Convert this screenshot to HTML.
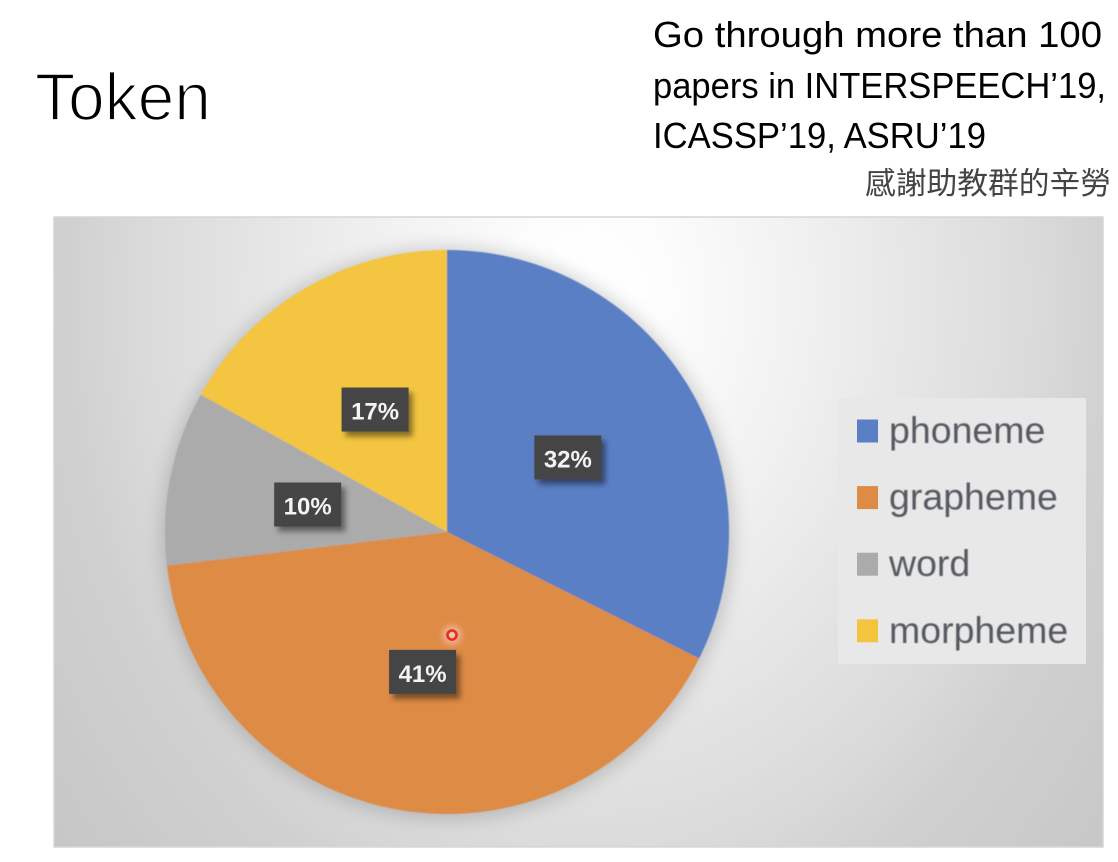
<!DOCTYPE html>
<html lang="en">
<head>
<meta charset="utf-8">
<title>Token</title>
<style>
html,body{margin:0;padding:0;background:#fff;width:1118px;height:862px;overflow:hidden}
svg{display:block}
text{font-family:"Liberation Sans","Noto Sans CJK TC",sans-serif}
</style>
</head>
<body>
<svg id="chart" xmlns="http://www.w3.org/2000/svg" width="1118" height="862" viewBox="0 0 1118 862">
  <defs>
    <radialGradient id="panelGrad" gradientUnits="userSpaceOnUse" cx="590" cy="300" r="700" gradientTransform="translate(0,300) scale(1,1.25) translate(0,-300)">
      <stop offset="0" stop-color="#ffffff"/>
      <stop offset="0.1" stop-color="#fdfdfd"/>
      <stop offset="0.3" stop-color="#f1f1f1"/>
      <stop offset="0.46" stop-color="#e6e6e6"/>
      <stop offset="0.64" stop-color="#dadada"/>
      <stop offset="0.75" stop-color="#d0d0d0"/>
      <stop offset="1" stop-color="#c6c6c6"/>
    </radialGradient>
    <filter id="labelShadow" x="-30%" y="-30%" width="170%" height="170%">
      <feDropShadow dx="4" dy="5" stdDeviation="3" flood-color="#000" flood-opacity="0.45"/>
    </filter>
    <filter id="soft" x="-10%" y="-10%" width="120%" height="120%">
      <feGaussianBlur stdDeviation="0.45"/>
    </filter>
    <filter id="pieHalo" x="-20%" y="-20%" width="140%" height="140%">
      <feGaussianBlur stdDeviation="9"/>
    </filter>
    <filter id="cursorGlow" x="-100%" y="-100%" width="300%" height="300%">
      <feGaussianBlur stdDeviation="3"/>
    </filter>
  </defs>

  <text x="35" y="120" font-size="67" fill="#000" stroke="#fff" stroke-width="1.8" textLength="176" lengthAdjust="spacingAndGlyphs">Token</text>
  <text x="653" y="47" font-size="36" fill="#000" textLength="449" lengthAdjust="spacingAndGlyphs">Go through more than 100</text>
  <text x="653" y="98" font-size="36" fill="#000" textLength="453" lengthAdjust="spacingAndGlyphs">papers in INTERSPEECH’19,</text>
  <text x="653" y="148" font-size="36" fill="#000" textLength="333" lengthAdjust="spacingAndGlyphs">ICASSP’19, ASRU’19</text>
  <text x="865" y="194" font-size="30.5" fill="#444" textLength="246" lengthAdjust="spacingAndGlyphs">感謝助教群的辛勞</text>

  <rect x="54" y="217" width="1049" height="630" fill="url(#panelGrad)" stroke="#d6d6d6" stroke-width="1.5"/>
  <circle cx="447" cy="534" r="286" fill="#777" opacity="0.35" filter="url(#pieHalo)"/>
  <g id="slices" filter="url(#soft)"></g>
  <g id="labels"></g>
  <rect x="838" y="398" width="248" height="266" fill="#e8e8e8"/>
  <g id="legend"></g>

  <g>
    <circle cx="452" cy="635" r="10" fill="#f6b5a0" opacity="0.8" filter="url(#cursorGlow)"/>
    <circle cx="452" cy="635" r="4.5" fill="#f3c4b4" stroke="#e0301e" stroke-width="2.6"/>
  </g>
</svg>
<script>
const categories = ["phoneme", "grapheme", "word", "morpheme"];
const seriesValues = [32.4, 40.7, 10, 16.9];
const sliceColors = ["#5a7fc5", "#dd8b45", "#ababab", "#f3c53f"];

const NS = "http://www.w3.org/2000/svg";
const CX = 447, CY = 532, R = 282, LABEL_R = 142;
const total = seriesValues.reduce(function (a, b) { return a + b; }, 0);

function angleOf(v) { return v / total * Math.PI * 2; }
function px(a, r) { return CX + r * Math.sin(a); }
function py(a, r) { return CY - r * Math.cos(a); }

const slicesG = document.getElementById("slices");
const labelsG = document.getElementById("labels");
const legendG = document.getElementById("legend");

let cumulative = 0;
seriesValues.forEach(function (v, i) {
  const a0 = angleOf(cumulative);
  const a1 = angleOf(cumulative + v);
  cumulative += v;

  const path = document.createElementNS(NS, "path");
  const large = a1 - a0 > Math.PI ? 1 : 0;
  path.setAttribute("d", "M" + CX + " " + CY + " L" + px(a0, R) + " " + py(a0, R) +
    " A" + R + " " + R + " 0 " + large + " 1 " + px(a1, R) + " " + py(a1, R) + " Z");
  path.setAttribute("fill", sliceColors[i]);
  
  
  slicesG.appendChild(path);

  const mid = (a0 + a1) / 2;
  const lx = px(mid, LABEL_R), ly = py(mid, LABEL_R);
  const g = document.createElementNS(NS, "g");
  
  
  const box = document.createElementNS(NS, "rect");
  box.setAttribute("x", lx - 33.5);
  box.setAttribute("y", ly - 22);
  box.setAttribute("width", 67);
  box.setAttribute("height", 44);
  box.setAttribute("fill", "#444444");
  box.setAttribute("filter", "url(#labelShadow)");
  g.appendChild(box);
  const t = document.createElementNS(NS, "text");
  t.setAttribute("x", lx);
  t.setAttribute("y", ly + 10);
  t.setAttribute("text-anchor", "middle");
  t.setAttribute("font-size", "24");
  t.setAttribute("font-weight", "bold");
  t.setAttribute("fill", "#f4f4f4");
  t.textContent = Math.round(v / total * 100) + "%";
  g.appendChild(t);
  labelsG.appendChild(g);

  const rowY = 431 + i * 66.6;
  const swatch = document.createElementNS(NS, "rect");
  swatch.setAttribute("x", 857);
  swatch.setAttribute("y", rowY - 11.5);
  swatch.setAttribute("width", 21);
  swatch.setAttribute("height", 23);
  swatch.setAttribute("fill", sliceColors[i]);
  
  
  legendG.appendChild(swatch);
  const lt = document.createElementNS(NS, "text");
  lt.setAttribute("x", 889);
  lt.setAttribute("y", rowY + 12);
  lt.setAttribute("font-size", "37.5");
  lt.setAttribute("fill", "#565a60");
  lt.setAttribute("filter", "url(#soft)");
  
  
  lt.textContent = categories[i];
  legendG.appendChild(lt);
});
</script>
</body>
</html>
